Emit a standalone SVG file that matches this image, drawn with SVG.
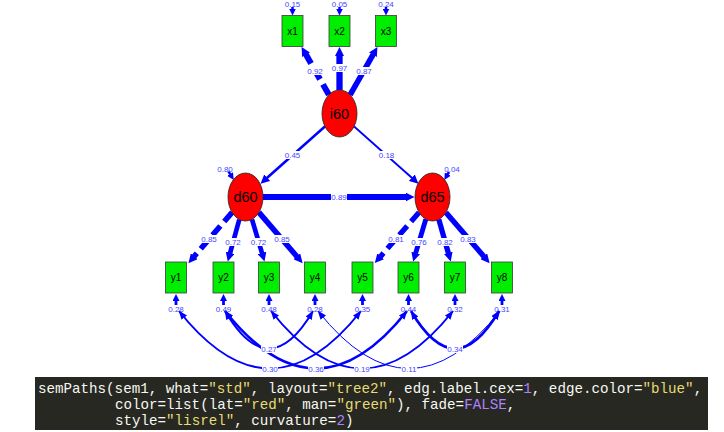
<svg xmlns="http://www.w3.org/2000/svg" width="724" height="432" viewBox="0 0 724 432">
<style>
.e{stroke:#0000ff;fill:none}
.lb{font-family:"Liberation Sans",Arial,sans-serif;font-size:8px;fill:#4646ff;text-anchor:middle}
.bg{fill:#ffffff}
.man{fill:#00ee00;stroke:#3a3a3a;stroke-width:0.8}
.lat{fill:#ff0000;stroke:#222;stroke-width:0.8}
.mt{font-family:"Liberation Sans",Arial,sans-serif;font-size:10px;fill:#000;text-anchor:middle}
.lt{font-family:"Liberation Sans",Arial,sans-serif;font-size:14.5px;fill:#000;text-anchor:middle}
.code{font-family:"Liberation Mono","DejaVu Sans Mono",monospace;font-size:14.2px;fill:#f8f8f2}
.s{fill:#e6db74}
.n{fill:#ae81ff}
</style>
<defs>
<marker id="ah" markerUnits="userSpaceOnUse" markerWidth="10" markerHeight="9" viewBox="0 0 10 9" refX="0.5" refY="4.5" orient="auto"><path d="M0,0 L9,4.5 L0,9 z" fill="#0000ff"/></marker>
<marker id="ahr" markerUnits="userSpaceOnUse" markerWidth="8" markerHeight="7" viewBox="0 0 8 7" refX="0.5" refY="3.5" orient="auto"><path d="M0,0 L7,3.5 L0,7 z" fill="#0000ff"/></marker>
<marker id="ahc" markerUnits="userSpaceOnUse" markerWidth="9" markerHeight="7" viewBox="0 0 9 7" refX="8.5" refY="3.5" orient="auto-start-reverse"><path d="M0,0 L9,3.5 L0,7 z" fill="#0000ff"/></marker>
</defs>
<rect width="724" height="432" fill="#ffffff"/>

<g id="connectors">
<!-- i60 loadings -->
<line class="e" x1="328.9" y1="94.8" x2="305.8" y2="54.3" stroke-width="6" stroke-dasharray="12 6" marker-end="url(#ah)"/>
<line class="e" x1="339.5" y1="90" x2="339.5" y2="55.5" stroke-width="6.3" marker-end="url(#ah)"/>
<line class="e" x1="350.1" y1="94.8" x2="373.2" y2="54.3" stroke-width="5.6" marker-end="url(#ah)"/>
<!-- regressions -->
<line class="e" x1="324.9" y1="126.5" x2="266.9" y2="178" stroke-width="2.5" marker-end="url(#ah)"/>
<line class="e" x1="354.1" y1="126.5" x2="412.1" y2="178" stroke-width="1.8" marker-end="url(#ah)"/>
<line class="e" x1="263" y1="197" x2="406" y2="197" stroke-width="6" marker-end="url(#ah)"/>
<!-- d60 loadings -->
<line class="e" x1="232.1" y1="212.4" x2="193.9" y2="256.7" stroke-width="5.5" stroke-dasharray="12 6" marker-end="url(#ah)"/>
<line class="e" x1="239.3" y1="219.5" x2="230" y2="253.3" stroke-width="4.7" marker-end="url(#ah)"/>
<line class="e" x1="252" y1="219.3" x2="262.1" y2="253.4" stroke-width="4.7" marker-end="url(#ah)"/>
<line class="e" x1="258.9" y1="212.4" x2="297.1" y2="256.7" stroke-width="5.5" marker-end="url(#ah)"/>
<!-- d65 loadings -->
<line class="e" x1="419" y1="212.4" x2="380.4" y2="256.7" stroke-width="5.3" stroke-dasharray="12 6" marker-end="url(#ah)"/>
<line class="e" x1="425.8" y1="219.2" x2="415.6" y2="253.4" stroke-width="4.9" marker-end="url(#ah)"/>
<line class="e" x1="438.8" y1="219.4" x2="448.4" y2="253.3" stroke-width="5.3" marker-end="url(#ah)"/>
<line class="e" x1="445.9" y1="212.4" x2="484.1" y2="256.7" stroke-width="5.4" marker-end="url(#ah)"/>
<!-- residuals top -->
<line class="e" x1="292.5" y1="7" x2="292.5" y2="9" stroke-width="2.5" marker-end="url(#ahr)"/>
<line class="e" x1="339.5" y1="7" x2="339.5" y2="9" stroke-width="2.5" marker-end="url(#ahr)"/>
<line class="e" x1="386" y1="7" x2="386" y2="9" stroke-width="2.5" marker-end="url(#ahr)"/>
<!-- residuals latent -->
<line class="e" x1="228.5" y1="171.5" x2="230.3" y2="174.4" stroke-width="2.5" marker-end="url(#ahr)"/>
<line class="e" x1="449" y1="172" x2="447.6" y2="174.4" stroke-width="2.5" marker-end="url(#ahr)"/>
<!-- residuals bottom -->
<line class="e" x1="176" y1="305" x2="176" y2="300.5" stroke-width="2.8" marker-end="url(#ahr)"/>
<line class="e" x1="223.5" y1="305" x2="223.5" y2="300.5" stroke-width="2.8" marker-end="url(#ahr)"/>
<line class="e" x1="269" y1="305" x2="269" y2="300.5" stroke-width="2.8" marker-end="url(#ahr)"/>
<line class="e" x1="315" y1="305" x2="315" y2="300.5" stroke-width="2.8" marker-end="url(#ahr)"/>
<line class="e" x1="362.5" y1="305" x2="362.5" y2="300.5" stroke-width="2.8" marker-end="url(#ahr)"/>
<line class="e" x1="408.5" y1="305" x2="408.5" y2="300.5" stroke-width="2.8" marker-end="url(#ahr)"/>
<line class="e" x1="455" y1="305" x2="455" y2="300.5" stroke-width="2.8" marker-end="url(#ahr)"/>
<line class="e" x1="502" y1="305" x2="502" y2="300.5" stroke-width="2.8" marker-end="url(#ahr)"/>
<!-- covariances -->
<path class="e" d="M179,311 Q270,426 361,311" stroke-width="2" marker-start="url(#ahc)" marker-end="url(#ahc)"/>
<path class="e" d="M225,311 Q269,386 313,311" stroke-width="2" marker-start="url(#ahc)" marker-end="url(#ahc)"/>
<path class="e" d="M225,311 Q316,426 407,311" stroke-width="2.6" marker-start="url(#ahc)" marker-end="url(#ahc)"/>
<path class="e" d="M271,311 Q362,426 453,311" stroke-width="2" marker-start="url(#ahc)" marker-end="url(#ahc)"/>
<path class="e" d="M318,311 Q409,426 500,311" stroke-width="1" marker-start="url(#ahc)" marker-end="url(#ahc)"/>
<path class="e" d="M411,311 Q455,386 499,311" stroke-width="2.6" marker-start="url(#ahc)" marker-end="url(#ahc)"/>
</g>

<g id="edge-labels">
<rect class="bg" x="307" y="67" width="16" height="8"/><text class="lb" x="315" y="73.9">0.92</text>
<rect class="bg" x="331.5" y="64" width="16" height="8"/><text class="lb" x="339.5" y="70.9">0.97</text>
<rect class="bg" x="356" y="67" width="16" height="8"/><text class="lb" x="364" y="73.9">0.87</text>
<rect class="bg" x="284.5" y="151" width="16" height="8"/><text class="lb" x="292.5" y="157.9">0.45</text>
<rect class="bg" x="378.5" y="151" width="16" height="8"/><text class="lb" x="386.5" y="157.9">0.18</text>
<rect class="bg" x="331" y="193" width="16" height="8"/><text class="lb" x="339" y="199.9">0.89</text>
<text class="lb" x="225" y="171.9">0.80</text>
<text class="lb" x="452" y="171.9">0.04</text>
<rect class="bg" x="201" y="235" width="16" height="8"/><text class="lb" x="209" y="241.9">0.85</text>
<rect class="bg" x="225" y="238" width="16" height="8"/><text class="lb" x="233" y="244.9">0.72</text>
<rect class="bg" x="250.5" y="238" width="16" height="8"/><text class="lb" x="258.5" y="244.9">0.72</text>
<rect class="bg" x="274" y="235" width="16" height="8"/><text class="lb" x="282" y="241.9">0.85</text>
<rect class="bg" x="388" y="235" width="16" height="8"/><text class="lb" x="396" y="241.9">0.81</text>
<rect class="bg" x="411" y="238" width="16" height="8"/><text class="lb" x="419" y="244.9">0.76</text>
<rect class="bg" x="437" y="238" width="16" height="8"/><text class="lb" x="445" y="244.9">0.82</text>
<rect class="bg" x="460" y="235" width="16" height="8"/><text class="lb" x="468" y="241.9">0.83</text>
<text class="lb" x="292.5" y="6.8">0.15</text>
<text class="lb" x="339.5" y="6.8">0.05</text>
<text class="lb" x="386" y="6.8">0.24</text>
<text class="lb" x="176" y="311.9">0.28</text>
<text class="lb" x="223.5" y="311.9">0.49</text>
<text class="lb" x="269" y="311.9">0.48</text>
<text class="lb" x="315" y="311.9">0.28</text>
<text class="lb" x="362.5" y="311.9">0.35</text>
<text class="lb" x="408.5" y="311.9">0.44</text>
<text class="lb" x="455" y="311.9">0.32</text>
<text class="lb" x="502" y="311.9">0.31</text>
<rect class="bg" x="261" y="345" width="16" height="8"/><text class="lb" x="269" y="351.9">0.27</text>
<rect class="bg" x="262" y="365" width="16" height="8"/><text class="lb" x="270" y="371.9">0.30</text>
<rect class="bg" x="308" y="365" width="16" height="8"/><text class="lb" x="316" y="371.9">0.36</text>
<rect class="bg" x="354" y="365" width="16" height="8"/><text class="lb" x="362" y="371.9">0.19</text>
<rect class="bg" x="401" y="365" width="16" height="8"/><text class="lb" x="409" y="371.9">0.11</text>
<rect class="bg" x="447" y="345" width="16" height="8"/><text class="lb" x="455" y="351.9">0.34</text>
</g>

<g id="x1"><rect class="man" x="282" y="15.5" width="21" height="31"/><text class="mt" x="292.5" y="34.5">x1</text></g>
<g id="x2"><rect class="man" x="329" y="15.5" width="21" height="31"/><text class="mt" x="339.5" y="34.5">x2</text></g>
<g id="x3"><rect class="man" x="375.5" y="15.5" width="21" height="31"/><text class="mt" x="386" y="34.5">x3</text></g>
<g id="i60"><ellipse class="lat" cx="339.5" cy="113.5" rx="17.5" ry="23.5"/><text class="lt" x="339.5" y="118.7">i60</text></g>
<g id="d60"><ellipse class="lat" cx="245.5" cy="197" rx="17.5" ry="24"/><text class="lt" x="245.5" y="202.2">d60</text></g>
<g id="d65"><ellipse class="lat" cx="432.5" cy="197" rx="17.5" ry="24"/><text class="lt" x="432.5" y="202.2">d65</text></g>
<g id="y1"><rect class="man" x="165.5" y="262" width="21" height="31"/><text class="mt" x="176" y="281">y1</text></g>
<g id="y2"><rect class="man" x="213" y="262" width="21" height="31"/><text class="mt" x="223.5" y="281">y2</text></g>
<g id="y3"><rect class="man" x="258.5" y="262" width="21" height="31"/><text class="mt" x="269" y="281">y3</text></g>
<g id="y4"><rect class="man" x="304.5" y="262" width="21" height="31"/><text class="mt" x="315" y="281">y4</text></g>
<g id="y5"><rect class="man" x="352" y="262" width="21" height="31"/><text class="mt" x="362.5" y="281">y5</text></g>
<g id="y6"><rect class="man" x="398" y="262" width="21" height="31"/><text class="mt" x="408.5" y="281">y6</text></g>
<g id="y7"><rect class="man" x="444.5" y="262" width="21" height="31"/><text class="mt" x="455" y="281">y7</text></g>
<g id="y8"><rect class="man" x="491.5" y="262" width="21" height="31"/><text class="mt" x="502" y="281">y8</text></g>

<g id="code">
<rect x="35" y="377" width="673" height="53" fill="#272822"/>
<text class="code" x="38" y="392.5">semPaths(sem1, what=<tspan class="s">"std"</tspan>, layout=<tspan class="s">"tree2"</tspan>, edg.label.cex=<tspan class="n">1</tspan>, edge.color=<tspan class="s">"blue"</tspan>,</text>
<text class="code" x="115" y="408.5">color=list(lat=<tspan class="s">"red"</tspan>, man=<tspan class="s">"green"</tspan>), fade=<tspan class="n">FALSE</tspan>,</text>
<text class="code" x="115" y="424.5">style=<tspan class="s">"lisrel"</tspan>, curvature=<tspan class="n">2</tspan>)</text>
</g>
</svg>
